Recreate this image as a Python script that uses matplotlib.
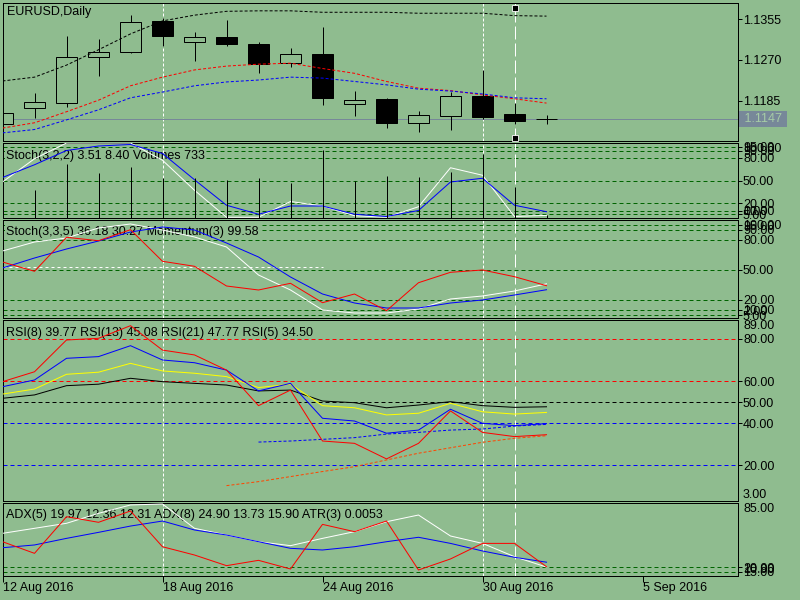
import matplotlib.pyplot as plt
import matplotlib.transforms as mtransforms
from matplotlib.patches import Rectangle

plt.rcParams['font.family'] = ['Liberation Sans', 'DejaVu Sans']
plt.rcParams['font.size'] = 9
plt.rcParams['lines.scale_dashes'] = False

BG = '#8FBC8F'
LEVEL = '#006400'

# x axis: one slot per daily bar (broker has Sunday bars)
date_labels = ['12 Aug 2016', '18 Aug 2016', '24 Aug 2016', '30 Aug 2016', '5 Sep 2016']
date_bars = [0, 5, 10, 15, 20]
bars = list(range(18))

# EURUSD daily candles
opens  = [1.1137, 1.1170, 1.1180, 1.1276, 1.1286, 1.1351, 1.1307, 1.1318, 1.1303,
          1.1263, 1.1282, 1.1178, 1.1189, 1.1139, 1.1153, 1.1195, 1.1157, 1.1147]
highs  = [1.1162, 1.1201, 1.1320, 1.1313, 1.1363, 1.1357, 1.1328, 1.1353, 1.1307,
          1.1295, 1.1338, 1.1205, 1.1191, 1.1164, 1.1203, 1.1249, 1.1180, 1.1155]
lows   = [1.1133, 1.1149, 1.1172, 1.1236, 1.1284, 1.1299, 1.1268, 1.1299, 1.1243,
          1.1255, 1.1176, 1.1153, 1.1128, 1.1120, 1.1124, 1.1147, 1.1137, 1.1137]
closes = [1.1159, 1.1182, 1.1276, 1.1286, 1.1349, 1.1320, 1.1318, 1.1303, 1.1261,
          1.1282, 1.1191, 1.1186, 1.1139, 1.1155, 1.1195, 1.1151, 1.1143, 1.1147]
last_price = 1.1147

ma_black = [1.1226, 1.1234, 1.1259, 1.1291, 1.1324, 1.1351, 1.1363, 1.1371, 1.1372,
            1.1372, 1.1369, 1.1369, 1.1369, 1.1367, 1.1367, 1.1367, 1.1362, 1.1361]
ma_red = [1.1128, 1.1139, 1.1162, 1.1186, 1.1216, 1.1234, 1.1249, 1.1257, 1.1261,
          1.1263, 1.1252, 1.1242, 1.1225, 1.1211, 1.1206, 1.1197, 1.1189, 1.1180]
ma_blue = [1.1118, 1.1125, 1.1145, 1.1166, 1.1191, 1.1203, 1.1216, 1.1224, 1.1228,
           1.1234, 1.1232, 1.1225, 1.1218, 1.1209, 1.1205, 1.1199, 1.1191, 1.1189]
price_ticks = [1.1355, 1.1270, 1.1185]

# Stoch(3,2,2) + Volumes
stoch1_main = [48, 79, 100, 100, 100, 77, 37, 1, 1, 22, 16, 3, 1, 15, 67, 57, 2, 3.51]
stoch1_sig = [54, 71, 90, 96, 98, 86, 51, 17, 5, 16, 16, 5, 2, 10, 48, 53, 17, 8.40]
volumes = [8000, 6850, 13200, 11000, 12450, 9770, 9770, 9280, 9770,
           8550, 16600, 9040, 10260, 10000, 11230, 15630, 7570, 733]

# Stoch(3,3,5) + Momentum(3)
stoch2_main = [69, 78, 82, 92, 96, 90, 83, 73, 45, 30, 10, 7, 7, 11, 21, 24, 29, 36.18]
stoch2_sig = [52, 62, 71, 79, 88, 93, 90, 77, 63, 43, 26, 17, 12, 12, 17, 20, 25, 30.27]
momentum_scaled = [58, 48.7, 82.7, 79.3, 90.3, 58.7, 53.7, 34, 30, 36.7, 17.3, 26, 9.3,
                   37.3, 47.7, 50, 43.3, 34.3]
stoch2_hline = 53.5
stoch_levels = [95, 90, 80, 50, 20, 10, 5]

# RSI
rsi5 = [59.7, 64.4, 79.5, 80.3, 86.3, 74.7, 72.4, 65.2, 48.3, 55.7, 31.5, 30.4, 23.0,
        30.4, 45.8, 35.6, 33.6, 34.50]
rsi8 = [57.3, 60.5, 70.8, 71.6, 76.8, 70.0, 68.7, 65.2, 55.3, 58.9, 42.3, 41.0, 35.2,
        36.7, 46.6, 39.9, 38.8, 39.77]
rsi13 = [53.8, 56.2, 63.2, 64.2, 68.4, 64.8, 63.7, 62.1, 56.9, 58.5, 48.3, 47.3, 43.9,
         44.7, 49.4, 45.4, 44.3, 45.08]
rsi21 = [51.8, 53.4, 57.8, 58.5, 61.3, 59.7, 58.9, 58.1, 55.3, 55.7, 50.5, 49.7, 47.3,
         48.6, 50.2, 48.3, 47.5, 47.77]
rsi_orange = [10.3, 12.2, 14.6, 17.0, 19.3, 22.5, 25.7, 28.3, 30.9, 32.8, 34.0]  # from bar 7
rsi_bluedash = [31.0, 31.5, 32.3, 33.1, 34.8, 35.6, 36.7, 37.2, 38.6, 39.4]      # from bar 8

# ADX / ATR
adx5 = [54.2, 59.3, 64.4, 74.5, 83, 84, 59.3, 52.5, 45.7, 41.7, 49.1, 55.9, 66,
        72.8, 51.5, 44, 30.5, 19.97]
adx8 = [39.6, 42.4, 49.1, 55.2, 61.6, 66.7, 57.6, 52.5, 45.7, 39.0, 37.3, 40.6, 45.7,
        50.2, 44.0, 36.3, 29.9, 24.90]
atr_scaled = [45.7, 33.9, 71.1, 65.4, 76.9, 40.6, 32.2, 21.4, 26.8, 18.0, 63.3, 55.9,
              66.7, 17.0, 28.2, 44.0, 44.0, 20.3]


def pt(p):
    # pixels -> points at 100 dpi
    return p * 0.72


fig = plt.figure(figsize=(8, 6), dpi=100, facecolor=BG)


def right_ticks(ax):
    ax.yaxis.tick_right()
    ax.tick_params(axis='y', left=False, labelleft=False, right=True, labelright=True,
                   direction='out', length=pt(4), width=pt(1), pad=pt(1),
                   labelsize=9, colors='black')


def panel(top, bottom, ylim):
    ax = fig.add_axes([2.5 / 800, 1 - bottom / 600, 735.5 / 800, (bottom - top) / 600])
    ax.set_facecolor(BG)
    ax.set_xlim(0, 735.5 / 32)
    ax.set_ylim(*ylim)
    for s in ax.spines.values():
        s.set_linewidth(pt(1))
        s.set_color('black')
    right_ticks(ax)
    ax.tick_params(axis='x', bottom=False, labelbottom=False)
    # vertical line objects
    ax.axvline(5, color='white', lw=pt(1), dashes=(pt(3), pt(2)), zorder=1.5)
    ax.axvline(15, color='white', lw=pt(1), dashes=(pt(3), pt(2)), zorder=1.5)
    ax.axvline(16, color='white', lw=pt(1), dashes=(pt(13), pt(4)), zorder=1.5)
    return ax


def label(ax, x, y, s, box=False):
    kw = dict(transform=fig.transFigure, va='baseline', ha='left', fontsize=9, zorder=1.2)
    if box:
        kw['bbox'] = dict(facecolor=BG, edgecolor='none', pad=1)
    ax.text(x / 800, 1 - y / 600, s, **kw)


def levels(ax, vals, color=LEVEL, dash=(4, 3)):
    for v in vals:
        ax.axhline(v, color=color, lw=pt(1), dashes=(pt(dash[0]), pt(dash[1])), zorder=1)


def level_labels(ax, vals):
    ax.set_yticks(vals)
    ax.set_yticklabels(['{:.2f}'.format(v) for v in vals])


def clamp_labels(ax, top=None, bottom=None):
    if top:
        ax.text(1.0068, 1.0, top, transform=ax.transAxes, va='top', ha='left', fontsize=9)
    if bottom:
        ax.text(1.0068, 0.0, bottom, transform=ax.transAxes, va='bottom', ha='left', fontsize=9)


# ---- main price panel ----
ax = panel(3, 141, (1.11011, 1.13883))
ax.set_yticks(price_ticks)
ax.set_yticklabels(['{:.4f}'.format(v) for v in price_ticks])
ax.axhline(last_price, color='#778899', lw=pt(1), zorder=1.5)
for i in bars:
    o, h, l, c = opens[i], highs[i], lows[i], closes[i]
    ax.vlines(i, l, h, color='black', lw=pt(1), zorder=2)
    face = BG if c >= o else 'black'
    ax.add_patch(Rectangle((i - 0.34, min(o, c)), 0.68, abs(c - o), facecolor=face,
                           edgecolor='black', lw=pt(1), zorder=2.1))
ax.plot(bars, ma_black, color='black', lw=pt(1), dashes=(pt(3), pt(2)), zorder=3)
ax.plot(bars, ma_red, color='red', lw=pt(1), dashes=(pt(3), pt(2)), zorder=3)
ax.plot(bars, ma_blue, color='blue', lw=pt(1), dashes=(pt(3), pt(2)), zorder=3)
blend = mtransforms.blended_transform_factory(ax.transData, ax.transAxes)
ax.plot([16, 16], [0.964, 0.022], 's', ms=4, mfc='black', mec='white', mew=0.6,
        transform=blend, zorder=4, clip_on=False)
ax.text(1.0035, last_price, ' {:.4f} '.format(last_price),
        transform=mtransforms.blended_transform_factory(ax.transAxes, ax.transData),
        va='center', ha='left', fontsize=9, color='#A6CCA6',
        bbox=dict(facecolor='#778899', edgecolor='none', pad=1.4))
label(ax, 7, 15, 'EURUSD,Daily')

# ---- Stoch(3,2,2) + Volumes ----
ax1 = panel(143, 218, (0, 100))
axv = ax1.twinx()
axv.set_ylim(0, 18300)
axv.set_xlim(ax1.get_xlim())
axv.set_yticks([])
axv.tick_params(axis='both', left=False, right=False, labelleft=False, labelright=False)
for s in axv.spines.values():
    s.set_visible(False)
axv.vlines(bars, 0, volumes, color='black', lw=pt(1))
right_ticks(ax1)
levels(ax1, stoch_levels)
level_labels(ax1, stoch_levels)
clamp_labels(ax1, '100.00', '0.00')
ax1.plot(bars, stoch1_main, color='white', lw=pt(1), zorder=3)
ax1.plot(bars, stoch1_sig, color='blue', lw=pt(1), zorder=3)
label(ax1, 6, 159, 'Stoch(3,2,2) {:.2f} {:.2f} Volumes {}'.format(
    stoch1_main[-1], stoch1_sig[-1], volumes[-1]), box=True)

# ---- Stoch(3,3,5) + Momentum(3) ----
ax2 = panel(220, 318, (2, 100))
levels(ax2, stoch_levels)
level_labels(ax2, stoch_levels)
clamp_labels(ax2, '100.00', '2.00')
ax2.hlines(stoch2_hline, 0, 10, color='white', lw=pt(1), linestyles=(0, (pt(3), pt(3))), zorder=1.5)
ax2.plot(bars, stoch2_main, color='white', lw=pt(1), zorder=3)
ax2.plot(bars, stoch2_sig, color='blue', lw=pt(1), zorder=3)
ax2.plot(bars, momentum_scaled, color='red', lw=pt(1), zorder=3)
label(ax2, 6, 235, 'Stoch(3,3,5) {:.2f} {:.2f} Momentum(3) 99.58'.format(
    stoch2_main[-1], stoch2_sig[-1]), box=True)

# ---- RSI ----
ax3 = panel(320, 501, (3, 89))
levels(ax3, [80, 60], color='red')
levels(ax3, [50], color='black')
levels(ax3, [40, 20], color='blue')
level_labels(ax3, [80, 60, 50, 40, 20])
clamp_labels(ax3, '89.00', '3.00')
ax3.plot(bars[7:], rsi_orange, color='#FF4500', lw=pt(1), dashes=(pt(3), pt(2)), zorder=2.5)
ax3.plot(bars[8:], rsi_bluedash, color='blue', lw=pt(1), dashes=(pt(3), pt(2)), zorder=2.5)
ax3.plot(bars, rsi21, color='black', lw=pt(1), zorder=3)
ax3.plot(bars, rsi13, color='yellow', lw=pt(1), zorder=3)
ax3.plot(bars, rsi8, color='blue', lw=pt(1), zorder=3)
ax3.plot(bars, rsi5, color='red', lw=pt(1), zorder=3)
label(ax3, 5.5, 336, 'RSI(8) {:.2f} RSI(13) {:.2f} RSI(21) {:.2f} RSI(5) {:.2f}'.format(
    rsi8[-1], rsi13[-1], rsi21[-1], rsi5[-1]))

# ---- ADX + ATR ----
ax4 = panel(503, 576, (10.9, 85))
levels(ax4, [20, 15])
ax4.set_yticks([20, 15])
ax4.set_yticklabels(['20.00', '15.00'])
clamp_labels(ax4, '85.00', '10.90')
ax4.plot(bars, adx5, color='white', lw=pt(1), zorder=3)
ax4.plot(bars, adx8, color='blue', lw=pt(1), zorder=3)
ax4.plot(bars, atr_scaled, color='red', lw=pt(1), zorder=3)
label(ax4, 6, 518, 'ADX(5) {:.2f} 12.36 12.31 ADX(8) {:.2f} 13.73 15.90 ATR(3) 0.0053'.format(
    adx5[-1], adx8[-1]))

ax4.set_xticks(date_bars)
ax4.tick_params(axis='x', bottom=True, labelbottom=False, direction='out',
                length=pt(6), width=pt(1))
dt = mtransforms.blended_transform_factory(ax4.transData, fig.transFigure)
for b, s in zip(date_bars, date_labels):
    ax4.text(b + 0.015, 1 - 591 / 600, s, transform=dt, ha='left', va='baseline',
             fontsize=9, clip_on=False)

fig.savefig('out.png', dpi=100, facecolor=BG)
